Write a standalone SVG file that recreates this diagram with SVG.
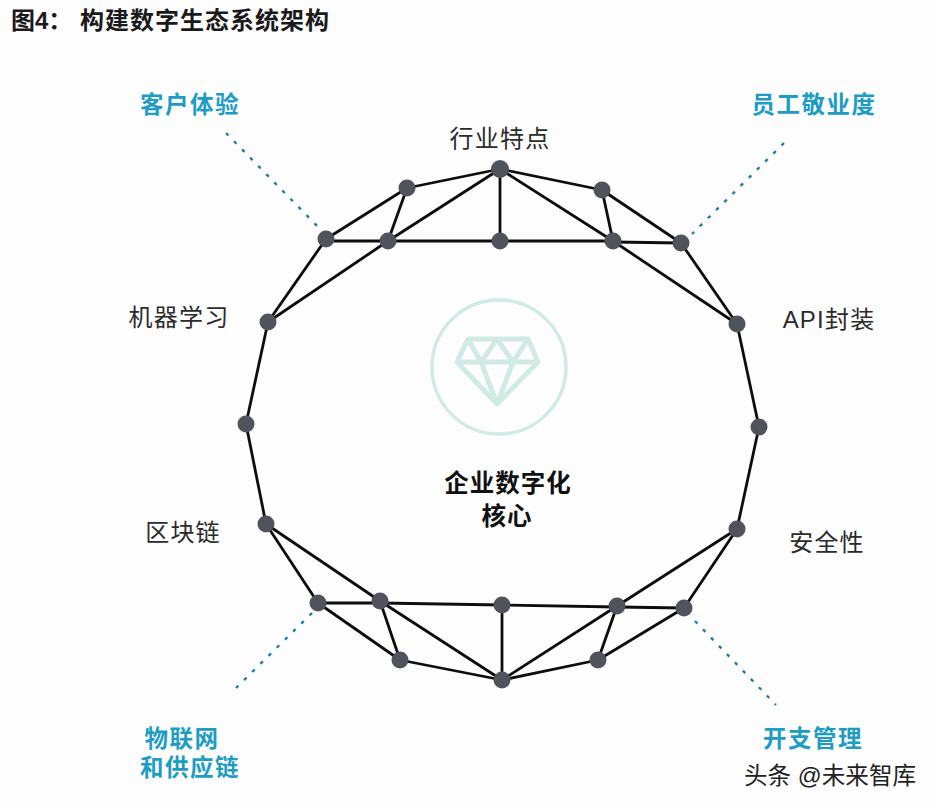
<svg xmlns="http://www.w3.org/2000/svg" width="936" height="808" viewBox="0 0 936 808">
<style>
text{font-family:"Liberation Sans","Noto Sans CJK SC",sans-serif;text-anchor:middle}
.l{font-size:24px;fill:#2b2b2b;letter-spacing:1.2px}
.b{font-size:23.5px;font-weight:700;fill:#1d9cc4;letter-spacing:1.5px}
.c{font-size:24.5px;font-weight:700;fill:#111;letter-spacing:1px}
.t{font-size:24px;font-weight:700;fill:#1a1a1a;text-anchor:start}
.w{font-size:23.6px;fill:#222;text-anchor:start}
.n{fill:#50525c}
#edges line{stroke:#0d0d0d;stroke-width:2.8}
#dots line{stroke:#1f7f9c;stroke-width:2.4;stroke-dasharray:3.5 8}
#core *{fill:none;stroke:#d0eae6}
</style>
<rect width="936" height="808" fill="#fdfdfe"/>
<text class="t" x="11" y="29">图4：</text><text class="t" x="80" y="29" letter-spacing="1">构建数字生态系统架构</text>
<g id="dots">
<line x1="226" y1="133" x2="320" y2="229"/><line x1="784" y1="143" x2="692" y2="234"/>
<line x1="312" y1="613" x2="236" y2="688"/><line x1="695" y1="621" x2="776" y2="705"/>
</g>
<g id="edges">
<line x1="268" y1="322" x2="326" y2="239"/><line x1="326" y1="239" x2="407" y2="188"/><line x1="407" y1="188" x2="500" y2="169"/><line x1="500" y1="169" x2="602" y2="190"/><line x1="602" y1="190" x2="681" y2="243"/><line x1="681" y1="243" x2="737" y2="324"/><line x1="737" y1="324" x2="759" y2="427"/><line x1="759" y1="427" x2="737" y2="529"/><line x1="737" y1="529" x2="684" y2="608"/><line x1="684" y1="608" x2="598" y2="660"/><line x1="598" y1="660" x2="502" y2="680"/><line x1="502" y1="680" x2="400" y2="660"/><line x1="400" y1="660" x2="318" y2="603"/><line x1="318" y1="603" x2="266" y2="524"/><line x1="266" y1="524" x2="246" y2="424"/><line x1="246" y1="424" x2="268" y2="322"/>
<line x1="326" y1="241" x2="388" y2="241"/><line x1="388" y1="241" x2="500" y2="241"/><line x1="500" y1="241" x2="613" y2="241"/><line x1="613" y1="242" x2="681" y2="243"/><line x1="407" y1="188" x2="388" y2="241"/><line x1="268" y1="322" x2="388" y2="241"/><line x1="388" y1="241" x2="500" y2="169"/><line x1="500" y1="169" x2="500" y2="241"/><line x1="500" y1="169" x2="613" y2="241"/><line x1="602" y1="190" x2="613" y2="241"/><line x1="613" y1="241" x2="737" y2="324"/>
<line x1="318" y1="603" x2="380" y2="603"/><line x1="380" y1="603" x2="502" y2="605"/><line x1="502" y1="605" x2="617" y2="607"/><line x1="617" y1="607" x2="684" y2="608"/><line x1="266" y1="524" x2="380" y2="601"/><line x1="380" y1="601" x2="400" y2="660"/><line x1="380" y1="601" x2="502" y2="680"/><line x1="502" y1="605" x2="502" y2="680"/><line x1="502" y1="680" x2="617" y2="606"/><line x1="598" y1="660" x2="617" y2="606"/><line x1="617" y1="606" x2="737" y2="529"/>
</g>
<g id="n1"><circle class="n" cx="326" cy="239" r="8.5"/></g><g id="n2"><circle class="n" cx="407" cy="188" r="8.5"/></g><g id="n3"><circle class="n" cx="388" cy="241" r="8.5"/></g><g id="n4"><circle class="n" cx="500" cy="169" r="9"/></g><g id="n5"><circle class="n" cx="500" cy="241" r="8.5"/></g><g id="n6"><circle class="n" cx="602" cy="190" r="8.5"/></g><g id="n7"><circle class="n" cx="613" cy="241" r="8.5"/></g><g id="n8"><circle class="n" cx="681" cy="243" r="8.5"/></g><g id="n9"><circle class="n" cx="737" cy="324" r="8.5"/></g><g id="n10"><circle class="n" cx="759" cy="427" r="8.5"/></g><g id="n11"><circle class="n" cx="737" cy="529" r="8.5"/></g><g id="n12"><circle class="n" cx="684" cy="608" r="8.5"/></g><g id="n13"><circle class="n" cx="617" cy="606" r="8.5"/></g><g id="n14"><circle class="n" cx="598" cy="660" r="8.5"/></g><g id="n15"><circle class="n" cx="502" cy="680" r="8.5"/></g><g id="n16"><circle class="n" cx="502" cy="605" r="8.5"/></g><g id="n17"><circle class="n" cx="400" cy="660" r="8.5"/></g><g id="n18"><circle class="n" cx="380" cy="601" r="8.5"/></g><g id="n19"><circle class="n" cx="318" cy="603" r="8.5"/></g><g id="n20"><circle class="n" cx="266" cy="524" r="8.5"/></g><g id="n21"><circle class="n" cx="246" cy="424" r="8.5"/></g><g id="n22"><circle class="n" cx="268" cy="322" r="8.5"/></g>
<g id="core">
<circle cx="499" cy="367" r="67" stroke-width="3.5"/>
<path d="M468 339H528L538 362L497 404L457 362Z M457 362H538 M468 339L481 362L497 339L513 362L528 339 M481 362L497 404L513 362" stroke-width="5" stroke-linejoin="round"/>
</g>
<text class="c" x="508" y="492">企业数字化</text><text class="c" x="507" y="525">核心</text>
<text class="l" x="500" y="147">行业特点</text><text class="l" x="179" y="326">机器学习</text><text class="l" x="829" y="328">API封装</text><text class="l" x="183" y="541">区块链</text><text class="l" x="827" y="551">安全性</text>
<text class="b" x="190" y="113">客户体验</text><text class="b" x="814" y="113">员工敬业度</text><text class="b" x="182" y="747">物联网</text><text class="b" x="190" y="776">和供应链</text><text class="b" x="813" y="747">开支管理</text>
<text class="w" x="744" y="784">头条 @未来智库</text>
</svg>
